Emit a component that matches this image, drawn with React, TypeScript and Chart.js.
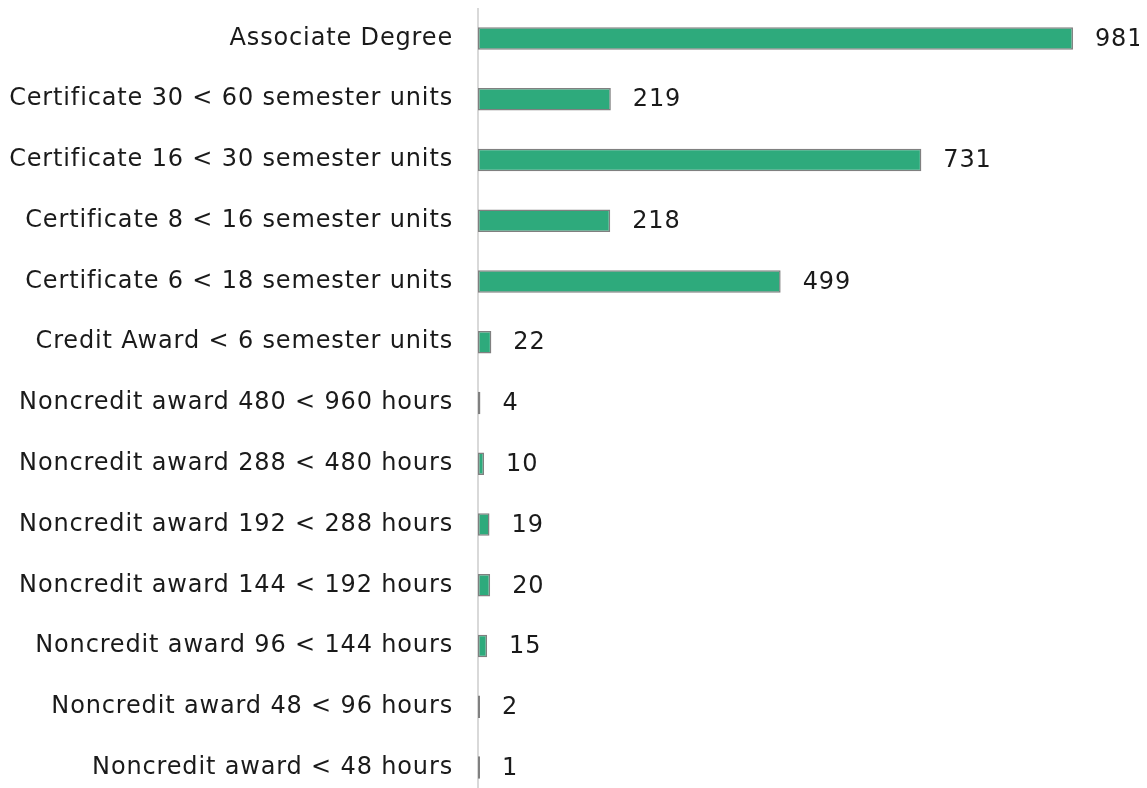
import React, { useEffect, useRef } from "react";
import { Chart, registerables } from "chart.js";

Chart.register(...registerables);

const categories = [
  "Associate Degree",
  "Certificate 30 < 60 semester units",
  "Certificate 16 < 30 semester units",
  "Certificate 8 < 16 semester units",
  "Certificate 6 < 18 semester units",
  "Credit Award < 6 semester units",
  "Noncredit award 480 < 960 hours",
  "Noncredit award 288 < 480 hours",
  "Noncredit award 192 < 288 hours",
  "Noncredit award 144 < 192 hours",
  "Noncredit award 96 < 144 hours",
  "Noncredit award 48 < 96 hours",
  "Noncredit award < 48 hours",
];
const awards = [981, 219, 731, 218, 499, 22, 4, 10, 19, 20, 15, 2, 1];

const FONT = "'DejaVu Sans'";
const FONT_SIZE = 24;
const SPACING = "0.85px";

const spacingPlugin = {
  id: "spacing",
  beforeUpdate(chart: any) {
    chart.ctx.letterSpacing = SPACING;
  },
  beforeLayout(chart: any) {
    chart.ctx.letterSpacing = SPACING;
  },
  beforeDraw(chart: any) {
    chart.ctx.letterSpacing = SPACING;
  },
};

const valueLabels = {
  id: "valueLabels",
  afterDatasetsDraw(chart: any) {
    const ctx = chart.ctx;
    const meta = chart.getDatasetMeta(0);
    ctx.save();
    ctx.letterSpacing = SPACING;
    ctx.font = `${FONT_SIZE}px ${FONT}`;
    ctx.fillStyle = "#1a1a1a";
    ctx.textAlign = "left";
    ctx.textBaseline = "middle";
    meta.data.forEach((bar: any, i: number) => {
      ctx.fillText(String(awards[i]), bar.x + 22, bar.y + 1);
    });
    ctx.restore();
  },
};

export default function App() {
  const ref = useRef<HTMLCanvasElement>(null);
  useEffect(() => {
    document.documentElement.style.overflow = "hidden";
    document.body.style.overflow = "hidden";
    const chart = new Chart(ref.current!, {
      type: "bar",
      data: {
        labels: categories,
        datasets: [
          {
            data: awards,
            backgroundColor: "#2eaa7c",
            borderColor: "#808080",
            borderWidth: 1.5,
            borderSkipped: false,
            minBarLength: 2,
            barPercentage: 0.37,
            categoryPercentage: 1,
          },
        ],
      },
      options: {
        indexAxis: "y",
        animation: false,
        responsive: true,
        maintainAspectRatio: false,
        layout: { padding: { top: 0, right: 62.5, bottom: 0, left: 0 } },
        plugins: { legend: { display: false }, tooltip: { enabled: false } },
        scales: {
          x: { display: false, min: 0, max: 1000 },
          y: {
            afterFit: (s: any) => {
              s.width = 470;
              s.paddingTop = 0;
              s.paddingBottom = 0;
            },
            grid: { display: false, drawTicks: false },
            border: { display: true, color: "#d9d9d9", width: 2 },
            ticks: {
              color: "#1a1a1a",
              padding: 25,
              font: { family: FONT, size: FONT_SIZE },
            },
          },
        },
      },
      plugins: [spacingPlugin, valueLabels],
    });
    return () => chart.destroy();
  }, []);
  return (
    <div style={{ width: 1139, height: 790, position: "relative" }}>
      <canvas ref={ref} />
    </div>
  );
}
